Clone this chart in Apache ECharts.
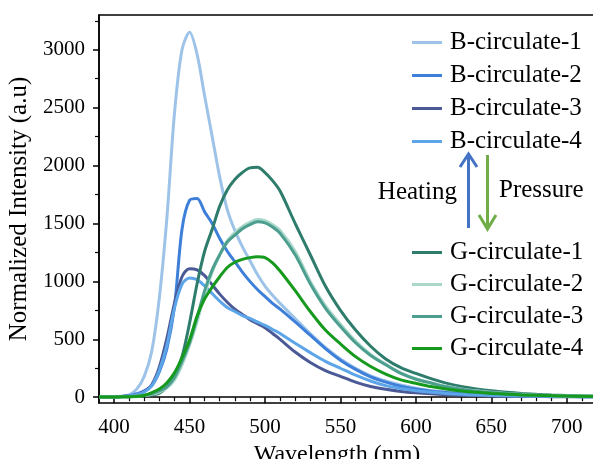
<!DOCTYPE html>
<html>
<head>
<meta charset="utf-8">
<script src="https://cdn.jsdelivr.net/npm/echarts@6/dist/echarts.min.js"></script>
<style>
  html, body { margin: 0; padding: 0; background: #fff; }
  #chart { width: 593px; height: 459px; }
</style>
</head>
<body>
<div id="chart"></div>
<script>
// wavelength grid (nm)
const wavelengths = [390, 400, 405, 410, 415, 420, 425, 430, 435, 440, 445, 450, 455, 460, 465, 470, 475, 480, 485, 490, 495, 500, 505, 510, 520, 530, 540, 550, 560, 570, 580, 590, 600, 610, 620, 630, 640, 650, 660, 670, 680, 690, 700, 710, 720]

const b1 = [5, 5, 8, 20, 70, 180, 400, 860, 1550, 2450, 3000, 3150, 2960, 2600, 2250, 1900, 1620, 1440, 1300, 1180, 1060, 960, 880, 810, 680, 550, 430, 330, 250, 185, 140, 105, 78, 58, 44, 34, 27, 21, 17, 13, 11, 9, 7, 6, 5]
const b2 = [3, 3, 5, 12, 30, 55, 100, 220, 420, 780, 1450, 1700, 1715, 1600, 1500, 1370, 1260, 1170, 1080, 1000, 930, 870, 810, 760, 650, 535, 420, 320, 240, 175, 130, 95, 70, 52, 40, 30, 24, 19, 15, 12, 10, 8, 6, 5, 4]
const b3 = [5, 5, 7, 12, 20, 50, 110, 262, 510, 810, 1040, 1110, 1100, 1050, 970, 890, 820, 760, 715, 670, 635, 600, 550, 500, 390, 300, 230, 180, 130, 92, 68, 50, 38, 29, 22, 17, 14, 11, 9, 7, 6, 5, 4, 4, 3]
const b4 = [5, 5, 7, 12, 22, 45, 100, 233, 450, 770, 975, 1030, 1015, 960, 895, 830, 775, 740, 705, 680, 650, 620, 585, 550, 465, 385, 310, 250, 190, 140, 100, 75, 55, 42, 32, 25, 19, 15, 12, 10, 8, 7, 6, 5, 4]
const g1 = [2, 2, 3, 5, 8, 12, 20, 35, 90, 190, 350, 640, 980, 1260, 1450, 1650, 1790, 1880, 1940, 1980, 1985, 1940, 1870, 1780, 1500, 1230, 960, 750, 580, 440, 330, 255, 205, 160, 122, 93, 72, 55, 42, 32, 25, 19, 15, 11, 9]
const g2 = [2, 2, 3, 4, 8, 14, 25, 45, 80, 150, 280, 450, 650, 890, 1080, 1230, 1350, 1420, 1475, 1510, 1535, 1525, 1490, 1440, 1260, 1000, 790, 630, 485, 370, 285, 210, 160, 125, 95, 72, 55, 42, 32, 25, 19, 15, 12, 9, 7]
const g3 = [2, 2, 3, 5, 10, 18, 30, 55, 90, 170, 310, 470, 690, 920, 1100, 1230, 1340, 1400, 1455, 1490, 1515, 1505, 1470, 1415, 1230, 980, 770, 610, 470, 360, 280, 205, 155, 122, 90, 68, 52, 40, 31, 24, 18, 14, 11, 9, 7]
const g4 = [2, 2, 3, 4, 6, 15, 40, 70, 125, 210, 340, 493, 700, 850, 950, 1040, 1120, 1165, 1190, 1205, 1212, 1205, 1160, 1090, 920, 740, 580, 460, 350, 265, 200, 150, 120, 92, 70, 54, 42, 33, 26, 20, 16, 13, 10, 8, 6]

const seriesNames = ['B-circulate-1', 'B-circulate-2', 'B-circulate-3', 'B-circulate-4',
  'G-circulate-1', 'G-circulate-2', 'G-circulate-3', 'G-circulate-4']
const seriesValues = [b1, b2, b3, b4, g1, g2, g3, g4]
const seriesColors = ['#9dc3e8', '#3d7fd9', '#4b5a96', '#5ca5e8', '#2e7d6c', '#a9d8cb', '#4c9f8e', '#169a1e']

const xLabels = [400, 450, 500, 550, 600, 650, 700]
const xMinor = [410, 420, 430, 440, 460, 470, 480, 490, 510, 520, 530, 540, 560, 570, 580, 590, 610, 620, 630, 640, 660, 670, 680, 690, 710]
const yLabels = [0, 500, 1000, 1500, 2000, 2500, 3000]
const yMinor = [250, 750, 1250, 1750, 2250, 2750, 3250]

const font = 'Liberation Serif, Times New Roman, serif'

const chart = echarts.init(document.getElementById('chart'))

const axisBase = {
  type: 'value',
  gridIndex: 0,
  splitLine: { show: false },
}

const option = {
  backgroundColor: '#fff',
  animation: false,
  grid: {
    left: 99,
    top: 15,
    width: 498,
    height: 388,
    outerBoundsMode: 'none',
    containLabel: false,
    show: true,
    borderColor: '#000',
    borderWidth: 1.5,
    backgroundColor: 'transparent',
  },
  xAxis: [
    {
      ...axisBase,
      position: 'bottom',
      min: 390,
      max: 720,
      name: 'Wavelength (nm)',
      nameLocation: 'middle',
      nameGap: 37,
      nameTextStyle: { fontFamily: font, fontSize: 24, color: '#000', padding: [0, 22, 0, 0] },
      axisLine: { show: true, lineStyle: { color: '#000', width: 1.5 } },
      axisTick: { show: true, inside: false, length: 6, customValues: xLabels, lineStyle: { color: '#000', width: 1.5 } },
      axisLabel: { customValues: xLabels, margin: 14, fontFamily: font, fontSize: 21, color: '#000', formatter: v => String(v) },
    },
    {
      ...axisBase,
      position: 'bottom',
      min: 390,
      max: 720,
      axisLine: { show: false },
      axisTick: { show: true, inside: false, length: 4, customValues: xMinor, lineStyle: { color: '#000', width: 1.2 } },
      axisLabel: { show: false },
    },
  ],
  yAxis: [
    {
      ...axisBase,
      position: 'left',
      min: -50,
      max: 3300,
      name: 'Normalized Intensity (a.u)',
      nameLocation: 'middle',
      nameGap: 64,
      nameTextStyle: { fontFamily: font, fontSize: 25, color: '#000' },
      axisLine: { show: true, lineStyle: { color: '#000', width: 1.5 } },
      axisTick: { show: true, inside: false, length: 6, customValues: yLabels, lineStyle: { color: '#000', width: 1.5 } },
      axisLabel: { customValues: yLabels, margin: 14, fontFamily: font, fontSize: 21, color: '#000', formatter: v => String(v) },
    },
    {
      ...axisBase,
      position: 'left',
      min: -50,
      max: 3300,
      axisLine: { show: false },
      axisTick: { show: true, inside: false, length: 4, customValues: yMinor, lineStyle: { color: '#000', width: 1.2 } },
      axisLabel: { show: false },
    },
  ],
  legend: [
    {
      data: seriesNames.slice(0, 4),
      orient: 'vertical',
      left: 407,
      top: 25,
      itemWidth: 30,
      itemHeight: 3,
      itemGap: 8,
      icon: 'rect',
      textStyle: { fontFamily: font, fontSize: 25, color: '#000', padding: [0, 0, 0, 3] },
    },
    {
      data: seriesNames.slice(4),
      orient: 'vertical',
      left: 407,
      top: 235,
      itemWidth: 30,
      itemHeight: 3,
      itemGap: 7,
      icon: 'rect',
      textStyle: { fontFamily: font, fontSize: 25, color: '#000', padding: [0, 0, 0, 3] },
    },
  ],
  graphic: [
    // heating arrow (up)
    { type: 'line', shape: { x1: 468.5, y1: 228, x2: 468.5, y2: 155 }, style: { stroke: '#4472c4', lineWidth: 3 } },
    { type: 'polyline', shape: { points: [[460, 167], [468.5, 154], [477, 167]] }, style: { stroke: '#4472c4', lineWidth: 3, fill: null } },
    // pressure arrow (down)
    { type: 'line', shape: { x1: 487.5, y1: 155, x2: 487.5, y2: 228 }, style: { stroke: '#70ad47', lineWidth: 3 } },
    { type: 'polyline', shape: { points: [[479, 215], [487.5, 229], [496, 215]] }, style: { stroke: '#70ad47', lineWidth: 3, fill: null } },
    { type: 'text', x: 457, y: 192, style: { text: 'Heating', font: '25px ' + font, fill: '#000', align: 'right', verticalAlign: 'middle' } },
    { type: 'text', x: 499, y: 190, style: { text: 'Pressure', font: '25px ' + font, fill: '#000', align: 'left', verticalAlign: 'middle' } },
  ],
  series: seriesNames.map((name, i) => ({
    name,
    type: 'line',
    xAxisIndex: 0,
    yAxisIndex: 0,
    data: wavelengths.map((w, j) => [w, seriesValues[i][j]]),
    smooth: 0.3,
    symbol: 'none',
    clip: true,
    lineStyle: { color: seriesColors[i], width: 3 },
    itemStyle: { color: seriesColors[i] },
    z: 2 + (i === 0 ? 0 : 1),
  })),
}

chart.setOption(option)
</script>
</body>
</html>
